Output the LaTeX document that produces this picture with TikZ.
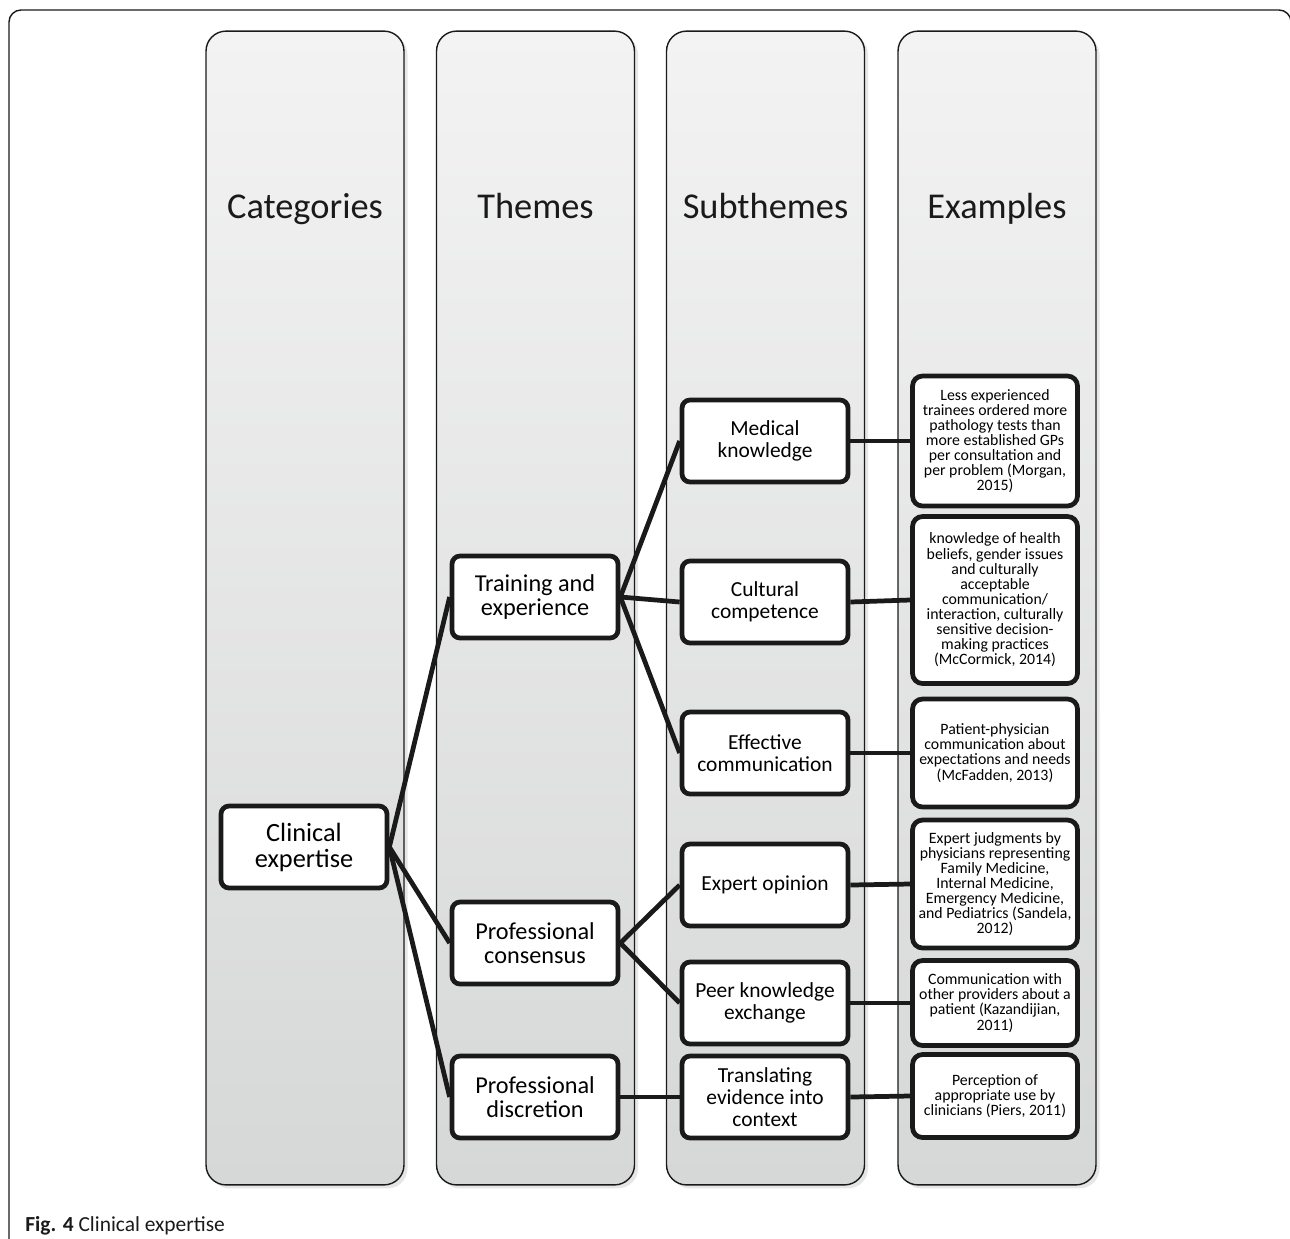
\documentclass[tikz,border=0pt]{standalone}
\usepackage{fontspec}
\setmainfont{Carlito}
\usetikzlibrary{shadows}
\definecolor{coltop}{RGB}{243,243,243}
\definecolor{colbot}{RGB}{214,215,215}
\definecolor{ink}{RGB}{26,26,26}

\begin{document}
\begin{tikzpicture}[
    x=0.02cm, y=-0.02cm,
    column/.style={
        rectangle,
        draw=ink,
        line width=0.8pt,
        rounded corners=0.4cm,
        top color=coltop,
        bottom color=colbot,
        minimum width=3.96cm,
        minimum height=23.08cm,
        drop shadow={opacity=0.2, shadow xshift=2pt, shadow yshift=-2pt}
    },
    header/.style={anchor=base, text=ink, font=\fontsize{20.7}{24}\selectfont},
    box/.style={
        rectangle,
        draw=ink,
        fill=white,
        line width=2.7pt,
        rounded corners=0.16cm,
        minimum width=3.32cm,
        minimum height=1.64cm,
        align=center,
        inner sep=2pt,
        font=\fontsize{13.8}{14}\selectfont
    },
    catbox/.style={box, font=\fontsize{15}{14.8}\selectfont},
    subbox/.style={box, font=\fontsize{12.2}{12.5}\selectfont},
    exbox/.style={
        rectangle,
        draw=ink,
        fill=white,
        line width=2.7pt,
        rounded corners=0.2cm,
        minimum width=3.3cm,
        align=center,
        inner sep=2pt,
        font=\fontsize{9}{8.6}\selectfont
    },
    link/.style={draw=ink, line width=2.7pt}
]
\useasboundingbox (0,0) rectangle (1290,1238);

% Frame
\draw[ink, line width=0.8pt, rounded corners=0.24cm] (9,1240) -- (9,10) -- (1291,10) -- (1291,1240);

% Columns
\node[column] (colcat) at (305,608) {};
\node[column] (colthm) at (535.5,608) {};
\node[column] (colsub) at (765.5,608) {};
\node[column] (colex)  at (997,608) {};

\node[header] (hcat) at (305,218) {Categories};
\node[header] (hthm) at (535.5,218) {Themes};
\node[header] (hsub) at (765.5,218) {Subthemes};
\node[header] (hex)  at (997,218) {Examples};

% Nodes
\node[catbox] (ce) at (304,847) {Clinical\\expertise};

\node[box] (te) at (535,597)  {Training and\\experience};
\node[box] (pc) at (535,943)  {Professional\\consensus};
\node[box] (pd) at (535,1097) {Professional\\discretion};

\node[subbox] (mk) at (765,441)  {Medical\\knowledge};
\node[subbox] (cc) at (765,602)  {Cultural\\competence};
\node[subbox] (ec) at (765,753)  {Effective\\communication};
\node[subbox] (eo) at (765,885)  {Expert opinion};
\node[subbox] (pk) at (765,1003) {Peer knowledge\\exchange};
\node[subbox] (tr) at (765,1097) {Translating\\evidence into\\context};

\node[exbox, minimum height=2.6cm] (x1) at (995,441) {Less experienced\\trainees ordered more\\pathology tests than\\more established GPs\\per consultation and\\per problem (Morgan,\\2015)};
\node[exbox, minimum height=3.34cm] (x2) at (995,600) {knowledge of health\\beliefs, gender issues\\and culturally\\acceptable\\communication/\\interaction, culturally\\sensitive decision-\\making practices\\(McCormick, 2014)};
\node[exbox, minimum height=2.16cm] (x3) at (995,753) {Patient-physician\\communication about\\expectations and needs\\(McFadden, 2013)};
\node[exbox, minimum height=2.56cm] (x4) at (995,884) {Expert judgments by\\physicians representing\\Family Medicine,\\Internal Medicine,\\Emergency Medicine,\\and Pediatrics (Sandela,\\2012)};
\node[exbox, minimum height=1.7cm] (x5) at (995,1003) {Communication with\\other providers about a\\patient (Kazandijian,\\2011)};
\node[exbox, minimum height=1.66cm] (x6) at (995,1096) {Perception of\\appropriate use by\\clinicians (Piers, 2011)};

% Links
\draw[link] (ce.east) -- (te.west);
\draw[link] (ce.east) -- (pc.west);
\draw[link] (ce.east) -- (pd.west);
\draw[link] (te.east) -- (mk.west);
\draw[link] (te.east) -- (cc.west);
\draw[link] (te.east) -- (ec.west);
\draw[link] (pc.east) -- (eo.west);
\draw[link] (pc.east) -- (pk.west);
\draw[link] (pd.east) -- (tr.west);
\draw[link] (mk.east) -- (x1.west);
\draw[link] (cc.east) -- (x2.west);
\draw[link] (ec.east) -- (x3.west);
\draw[link] (eo.east) -- (x4.west);
\draw[link] (pk.east) -- (x5.west);
\draw[link] (tr.east) -- (x6.west);

% Caption
\node[anchor=base west, inner sep=0pt, text=ink, font=\fontsize{12.2}{14}\selectfont] (caption) at (25,1231) {\textbf{Fig. 4} Clinical expertise};

\end{tikzpicture}
\end{document}
